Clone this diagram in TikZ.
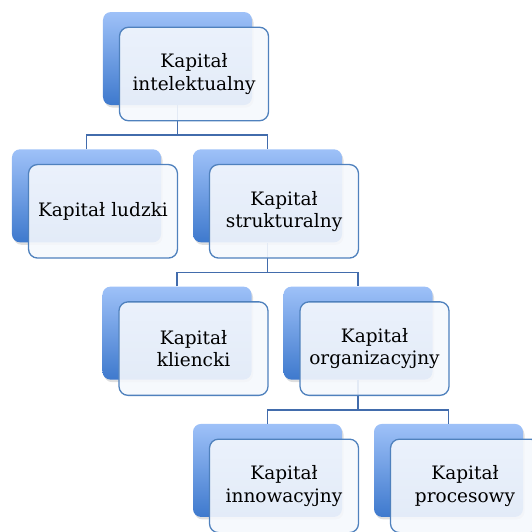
\documentclass[tikz,border=0pt]{standalone}
\usepackage{fontspec}
\setmainfont{DejaVu Serif}
\usetikzlibrary{positioning,shadows}

\definecolor{boxtop}{RGB}{158,193,248}
\definecolor{boxbottom}{RGB}{62,121,205}
\definecolor{boxline}{RGB}{79,129,189}
\definecolor{boxfill}{RGB}{245,248,253}
\definecolor{linkline}{RGB}{66,108,172}

\tikzstyle{backbox} = [rectangle, rounded corners=8pt, minimum width=149pt, minimum height=93pt, inner sep=0pt, top color=boxtop, bottom color=boxbottom, draw=none, drop shadow={opacity=0.25, shadow xshift=1.5pt, shadow yshift=-2.5pt}]
\tikzstyle{frontbox} = [rectangle, rounded corners=9pt, minimum width=149pt, minimum height=93.5pt, inner sep=0pt, text width=147pt, align=center, draw=boxline, line width=1.3pt, fill=boxfill, fill opacity=0.9, text opacity=1, font=\fontsize{18.5}{22.5}\selectfont]
\tikzstyle{connector} = [draw=linkline, line width=1.8pt]

\begin{document}
\begin{tikzpicture}[node distance=137.3pt]

	\useasboundingbox (-177.5pt,58.5pt) rectangle (354.5pt,-472.5pt);

	\node (intelB) [backbox] at (0,0) {};
	\node (ludzkiB) [backbox, below of=intelB, xshift=-91pt] {};
	\node (struktB) [backbox, right of=ludzkiB, xshift=43.7pt] {};
	\node (klientB) [backbox, below of=struktB, xshift=-90.5pt] {};
	\node (organB) [backbox, right of=klientB, xshift=43.7pt] {};
	\node (innowB) [backbox, below of=organB, xshift=-90.5pt] {};
	\node (procesB) [backbox, right of=innowB, xshift=43.7pt] {};

	\coordinate (j1) at ([yshift=-30pt]intelB.south);
	\coordinate (j2) at ([yshift=-30pt]struktB.south);
	\coordinate (j3) at ([yshift=-30pt]organB.south);

	\draw [connector] (intelB.south) -- (j1);
	\draw [connector] (ludzkiB.north) |- (j1) -| (struktB.north);
	\draw [connector] (struktB.south) -- (j2);
	\draw [connector] (klientB.north) |- (j2) -| (organB.north);
	\draw [connector] (organB.south) -- (j3);
	\draw [connector] (innowB.north) |- (j3) -| (procesB.north);

	\node (intel) [frontbox] at ([xshift=16.5pt,yshift=-15.5pt]intelB) {Kapitał\\intelektualny};
	\node (ludzki) [frontbox] at ([xshift=16.5pt,yshift=-15.5pt]ludzkiB) {Kapitał ludzki};
	\node (strukt) [frontbox] at ([xshift=16.5pt,yshift=-15.5pt]struktB) {Kapitał\\strukturalny};
	\node (klient) [frontbox] at ([xshift=16.5pt,yshift=-15.5pt]klientB) {Kapitał\\kliencki};
	\node (organ) [frontbox] at ([xshift=16.5pt,yshift=-15.5pt]organB) {Kapitał\\organizacyjny};
	\node (innow) [frontbox] at ([xshift=16.5pt,yshift=-15.5pt]innowB) {Kapitał\\innowacyjny};
	\node (proces) [frontbox] at ([xshift=16.5pt,yshift=-15.5pt]procesB) {Kapitał\\procesowy};

\end{tikzpicture}
\end{document}
